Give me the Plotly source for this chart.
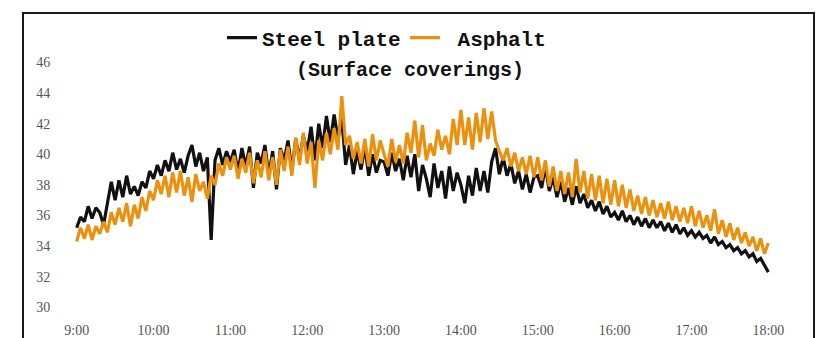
import numpy as np
import plotly.graph_objects as go

# time axis: readings every 3 minutes from 9:00 to 18:00 (hours as decimals)
minutes = np.arange(0, 541, 3)
hours = 9 + minutes / 60.0

tick_hours = [9, 10, 11, 12, 13, 14, 15, 16, 17, 18]
tick_labels = ["9:00", "10:00", "11:00", "12:00", "13:00", "14:00", "15:00", "16:00", "17:00", "18:00"]
y_ticks = [30, 32, 34, 36, 38, 40, 42, 44, 46]

steel_plate = [
    # 9:00 - 9:57
    35.2, 35.9, 35.6, 36.6, 35.8, 36.5, 36.2, 35.4, 36.8, 38.2, 37.0, 38.3, 37.2, 38.6, 37.4, 37.9, 37.3, 38.2, 37.8, 38.9,
    # 10:00 - 10:57
    38.4, 39.3, 38.6, 39.6, 38.9, 40.1, 39.0, 39.7, 38.8, 39.9, 40.6, 39.2, 40.1, 38.9, 39.8, 34.4, 39.6, 40.4, 39.3, 40.2,
    # 11:00 - 11:57
    39.5, 40.3, 38.8, 40.4, 39.2, 40.5, 37.8, 40.1, 39.4, 40.6, 38.6, 40.2, 37.7, 40.4, 39.6, 40.9, 38.9, 41.0, 39.7, 41.2,
    # 12:00 - 12:57
    40.2, 41.8, 39.6, 42.0, 40.4, 42.5, 40.8, 42.6, 41.0, 42.3, 39.3, 40.6, 38.7, 40.2, 39.0, 40.5, 38.6, 40.0, 38.8, 39.6,
    # 13:00 - 13:57
    39.5, 38.6, 40.1, 38.9, 39.7, 38.3, 39.9, 38.5, 40.0, 37.6, 39.3, 38.4, 37.2, 39.4, 37.8, 38.9, 37.1, 39.2, 37.6, 38.8,
    # 14:00 - 14:57
    38.0, 36.8, 38.6, 37.3, 39.1, 37.6, 38.9, 37.5, 39.5, 40.4, 38.7, 39.8, 38.6, 39.4, 38.1, 38.9, 37.7, 38.7, 37.5, 38.5,
    # 15:00 - 15:57
    38.6, 37.8, 39.2, 37.6, 38.5, 37.2, 38.2, 36.9, 37.8, 36.7, 37.9, 36.8, 37.4, 36.5, 37.0, 36.3, 36.9, 36.1, 36.6, 35.9,
    # 16:00 - 16:57
    36.2, 35.7, 36.3, 35.6, 36.0, 35.4, 35.9, 35.3, 35.8, 35.2, 35.7, 35.2, 35.6, 35.0, 35.5, 34.9, 35.4, 34.8, 35.2, 34.7,
    # 17:00 - 18:00
    35.0, 34.6, 34.9, 34.5, 34.7, 34.2, 34.6, 34.1, 34.3, 33.9, 34.1, 33.7, 33.9, 33.5, 33.7, 33.3, 33.5, 33.0, 33.2, 32.7, 32.3,
]

asphalt = [
    # 9:00 - 9:57
    34.3, 35.2, 34.5, 35.4, 34.4, 35.3, 34.8, 35.6, 34.9, 36.2, 35.4, 36.5, 35.6, 36.8, 35.3, 36.7, 35.8, 37.2, 36.3, 37.6,
    # 10:00 - 10:57
    37.0, 38.3, 37.4, 38.6, 37.2, 38.8, 37.5, 38.9, 37.3, 38.5, 36.9, 38.7, 37.6, 38.2, 37.1, 38.6, 38.0, 39.4, 38.6, 39.8,
    # 11:00 - 11:57
    39.0, 39.9, 38.4, 39.7, 38.8, 40.1, 38.1, 39.6, 38.5, 40.2, 38.3, 39.8, 38.0, 40.3, 38.9, 40.5, 38.6, 41.1, 39.3, 41.4,
    # 12:00 - 12:57
    39.4, 40.8, 37.8, 40.9, 39.6, 41.4, 40.0, 41.7, 40.3, 43.8, 40.6, 41.2, 39.7, 40.8, 39.4, 41.0, 39.2, 41.3, 39.6, 40.9,
    # 13:00 - 13:57
    40.0, 39.2, 41.0, 39.5, 40.6, 39.4, 41.4, 40.1, 42.2, 39.8, 41.9, 39.6, 40.7, 39.9, 41.6, 40.3, 41.2, 40.0, 42.3, 40.6,
    # 14:00 - 14:57
    42.9, 40.6, 42.4, 40.3, 42.7, 40.8, 43.0, 41.0, 42.8, 40.9, 40.2, 39.6, 40.4, 39.2, 40.1, 38.9, 39.8, 38.7, 39.9, 38.5,
    # 15:00 - 15:57
    39.8, 38.3, 39.6, 37.9, 39.2, 37.6, 38.9, 37.4, 38.8, 37.2, 39.7, 37.5, 38.9, 37.1, 38.7, 37.0, 38.6, 36.8, 38.4, 36.7,
    # 16:00 - 16:57
    38.3, 36.6, 38.0, 36.5, 37.7, 36.3, 37.3, 36.1, 37.2, 36.0, 37.0, 35.9, 36.8, 35.8, 36.9, 35.7, 36.6, 35.6, 36.5, 35.5,
    # 17:00 - 18:00
    36.6, 35.3, 36.3, 35.2, 36.0, 35.0, 36.4, 34.8, 35.7, 34.6, 35.5, 34.4, 35.2, 34.2, 34.9, 34.0, 34.6, 33.7, 34.5, 33.5, 34.2,
]

W, H = 821, 338
ML, MR, MT, MB = 69, 45, 10, 23
PW, PH = W - ML - MR, H - MT - MB
UNIT = 15.31  # pixels per degree
Y0 = 29.5
Y1 = Y0 + PH / UNIT


def px_x(p):
    return (p - ML) / PW


def px_y(p):
    return (H - MB - p) / PH


fig = go.Figure()
fig.add_trace(go.Scatter(x=hours, y=steel_plate, mode="lines", name="Steel plate",
                         line=dict(color="#111111", width=3.2)))
fig.add_trace(go.Scatter(x=hours, y=asphalt, mode="lines", name="\u00a0Asphalt",
                         line=dict(color="#EC9010", width=3.2)))

fig.update_layout(
    width=W, height=H,
    margin=dict(l=ML, r=MR, t=MT, b=MB, pad=0, autoexpand=False),
    paper_bgcolor="white", plot_bgcolor="white",
    showlegend=True,
    legend=dict(orientation="h", x=px_x(222), xanchor="left", y=px_y(38), yanchor="middle",
                font=dict(family="Liberation Mono", size=21, color="#111111", weight="bold"),
                bgcolor="rgba(0,0,0,0)", itemwidth=30, tracegroupgap=0,
                entrywidth=138, entrywidthmode="pixels",
                itemclick=False),
    annotations=[dict(text="(Surface coverings)", x=px_x(410), y=px_y(70), xref="paper", yref="paper",
                      showarrow=False, xanchor="center", yanchor="middle",
                      font=dict(family="Liberation Mono", size=20, color="#111111", weight="bold"))],
    shapes=[dict(type="rect", xref="paper", yref="paper",
                 x0=px_x(23), x1=px_x(814), y0=px_y(360), y1=px_y(13),
                 line=dict(color="#1a1a1a", width=2), fillcolor="rgba(0,0,0,0)", layer="below")],
)
fig.update_xaxes(range=[8.9, 18.1], tickvals=tick_hours, ticktext=tick_labels,
                 showgrid=False, zeroline=False, showline=False,
                 ticks="outside", ticklen=2, tickcolor="rgba(0,0,0,0)",
                 tickfont=dict(family="Liberation Serif", size=14, color="#555555"))
fig.update_yaxes(range=[Y0, Y1], tickvals=y_ticks,
                 showgrid=False, zeroline=False, showline=False,
                 ticks="outside", ticklen=15, tickcolor="rgba(0,0,0,0)",
                 tickfont=dict(family="Liberation Serif", size=14, color="#555555"))

fig.write_html("out.html", config={"displayModeBar": False},
               post_script="document.body.style.margin='0';document.body.style.overflow='hidden';")
